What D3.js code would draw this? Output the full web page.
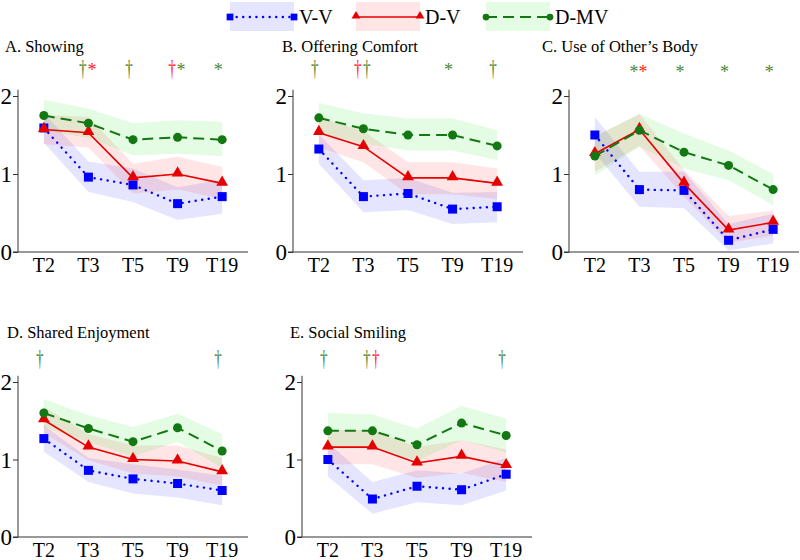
<!DOCTYPE html>
<html>
<head>
<meta charset="utf-8">
<script src="https://cdn.jsdelivr.net/npm/d3@7"></script>
<style>
  body { margin: 0; background: #fff; }
</style>
</head>
<body>
<div id="chart"></div>
<script>
const times = ['T2', 'T3', 'T5', 'T9', 'T19'];
const groups = ['V-V', 'D-V', 'D-MV'];
const titles = ['A. Showing', 'B. Offering Comfort', 'C. Use of Other\u2019s Body', 'D. Shared Enjoyment', 'E. Social Smiling'];
const yTicks = [0, 1, 2];

// means, rows = V-V, D-V, D-MV
const showingMean = [[1.59, 0.96, 0.86, 0.62, 0.71], [1.57, 1.53, 0.95, 1.0, 0.88], [1.75, 1.65, 1.44, 1.47, 1.44]];
const showingLow  = [[1.40, 0.77, 0.64, 0.41, 0.49], [1.38, 1.34, 0.75, 0.80, 0.68], [1.56, 1.46, 1.24, 1.26, 1.23]];
const showingHigh = [[1.78, 1.16, 1.07, 0.83, 0.93], [1.76, 1.73, 1.13, 1.22, 1.09], [1.95, 1.84, 1.65, 1.69, 1.67]];

const comfortMean = [[1.32, 0.71, 0.75, 0.55, 0.58], [1.53, 1.35, 0.95, 0.95, 0.88], [1.72, 1.58, 1.50, 1.50, 1.36]];
const comfortLow  = [[1.13, 0.51, 0.54, 0.36, 0.38], [1.34, 1.15, 0.74, 0.74, 0.68], [1.53, 1.39, 1.30, 1.30, 1.18]];
const comfortHigh = [[1.51, 0.92, 0.95, 0.76, 0.77], [1.72, 1.55, 1.15, 1.15, 1.07], [1.91, 1.78, 1.71, 1.71, 1.56]];

const bodyMean = [[1.50, 0.80, 0.79, 0.15, 0.29], [1.26, 1.57, 0.88, 0.28, 0.38], [1.23, 1.56, 1.28, 1.11, 0.80]];
const bodyLow  = [[1.27, 0.58, 0.56, 0.02, 0.11], [1.03, 1.36, 0.71, 0.12, 0.21], [0.98, 1.35, 1.07, 0.92, 0.60]];
const bodyHigh = [[1.73, 1.03, 1.03, 0.36, 0.49], [1.48, 1.77, 1.05, 0.46, 0.53], [1.48, 1.77, 1.52, 1.30, 1.00]];

const enjoyMean = [[1.27, 0.86, 0.75, 0.69, 0.60], [1.51, 1.16, 1.00, 0.98, 0.84], [1.60, 1.40, 1.23, 1.41, 1.11]];
const enjoyLow  = [[1.10, 0.71, 0.56, 0.51, 0.41], [1.34, 0.99, 0.82, 0.78, 0.66], [1.42, 1.23, 1.04, 1.23, 0.89]];
const enjoyHigh = [[1.44, 1.02, 0.94, 0.87, 0.79], [1.68, 1.33, 1.18, 1.18, 1.02], [1.78, 1.57, 1.42, 1.59, 1.33]];

const smileMean = [[1.00, 0.49, 0.655, 0.61, 0.81], [1.16, 1.16, 0.955, 1.04, 0.92], [1.37, 1.37, 1.19, 1.47, 1.31]];
const smileLow  = [[0.78, 0.30, 0.45, 0.41, 0.60], [0.94, 0.94, 0.76, 0.83, 0.71], [1.14, 1.15, 0.98, 1.25, 1.09]];
const smileHigh = [[1.22, 0.71, 0.86, 0.82, 1.02], [1.38, 1.38, 1.16, 1.25, 1.13], [1.60, 1.58, 1.40, 1.69, 1.53]];

// significance marks: [time, group, symbol]
const sigShowing = [['T3', 'D-MV', '†'], ['T3', 'D-V', '*'], ['T5', 'D-MV', '†'], ['T9', 'D-V', '†'], ['T9', 'D-MV', '*'], ['T19', 'D-MV', '*']];
const sigComfort = [['T2', 'D-MV', '†'], ['T3', 'D-V', '†'], ['T3', 'D-MV', '†'], ['T9', 'D-MV', '*'], ['T19', 'D-MV', '†']];
const sigBody = [['T3', 'D-MV', '*'], ['T3', 'D-V', '*'], ['T5', 'D-MV', '*'], ['T9', 'D-MV', '*'], ['T19', 'D-MV', '*']];
const sigEnjoy = [['T2', 'D-MV', '†'], ['T19', 'D-MV', '†']];
const sigSmile = [['T2', 'D-MV', '†'], ['T3', 'D-MV', '†'], ['T3', 'D-V', '†'], ['T19', 'D-MV', '†']];

const lineColor = { 'V-V': '#0000ff', 'D-V': '#e60000', 'D-MV': '#137813' };
const bandColor = { 'V-V': 'rgba(40,40,255,0.12)', 'D-V': 'rgba(255,40,40,0.12)', 'D-MV': 'rgba(40,230,40,0.13)' };
const sigColor = { 'V-V': '#0000ff', 'D-V': '#ff1a1a', 'D-MV': '#4a8534' };
const dashes = { 'V-V': '0.1,6.5', 'D-V': null, 'D-MV': '11,6' };
const FONT = 'Liberation Serif';

const width = 800, height = 560;
const svg = d3.select('#chart').append('svg').attr('width', width).attr('height', height);

function addText(sel, x, y, size, str) {
  return sel.append('text').attr('x', x).attr('y', y)
    .attr('font-size', size).attr('font-family', FONT).style('font-family', FONT)
    .text(str);
}

function drawMarker(sel, g, x, y, k) {
  if (g === 'V-V') {
    sel.append('rect').attr('x', x - 4.5 * k).attr('y', y - 4.5 * k).attr('width', 9 * k).attr('height', 9 * k).attr('fill', lineColor[g]);
  } else if (g === 'D-V') {
    sel.append('path').attr('d', d3.symbol(d3.symbolTriangle, 60 * k * k)()).attr('transform', 'translate(' + x + ',' + (y - 1) + ')').attr('fill', lineColor[g]);
  } else {
    sel.append('circle').attr('cx', x).attr('cy', y).attr('r', 4.5 * k).attr('fill', lineColor[g]);
  }
}

function styleLine(sel, g) {
  return sel.attr('stroke', lineColor[g])
    .attr('stroke-width', g === 'D-V' ? 1.6 : (g === 'V-V' ? 2.4 : 2))
    .attr('stroke-dasharray', dashes[g])
    .attr('stroke-linecap', g === 'V-V' ? 'round' : 'butt');
}

// legend
const legendX = [230, 356, 486];
groups.forEach((g, i) => {
  const lg = svg.append('g').attr('transform', 'translate(' + legendX[i] + ',2)');
  lg.append('rect').attr('width', 64).attr('height', 29).attr('fill', bandColor[g]);
  styleLine(lg.append('line').attr('x1', 0).attr('x2', 64).attr('y1', 15).attr('y2', 15), g);
  [0, 64].forEach(x => drawMarker(lg, g, x, 15, 0.75));
  addText(lg, 69, 22, 20, g);
});

const panels = [
  { mean: showingMean, low: showingLow, high: showingHigh, sig: sigShowing, left: 18, top: 96, bottom: 252, tx: 5, ty: 52, my: 76 },
  { mean: comfortMean, low: comfortLow, high: comfortHigh, sig: sigComfort, left: 293, top: 96, bottom: 252, tx: 282, ty: 52, my: 76 },
  { mean: bodyMean, low: bodyLow, high: bodyHigh, sig: sigBody, left: 569, top: 96, bottom: 252, tx: 542, ty: 52, my: 78 },
  { mean: enjoyMean, low: enjoyLow, high: enjoyHigh, sig: sigEnjoy, left: 18, top: 382, bottom: 537, tx: 7, ty: 338, my: 366 },
  { mean: smileMean, low: smileLow, high: smileHigh, sig: sigSmile, left: 302, top: 382, bottom: 537, tx: 290, ty: 338, my: 366 }
];

panels.forEach((p, pi) => {
  const x = d3.scalePoint().domain(times).range([p.left, p.left + 230]).padding(0.58);
  const y = d3.scaleLinear().domain([0, 2]).range([p.bottom, p.top]);

  addText(svg, p.tx, p.ty, 16.5, titles[pi]);

  // bands
  groups.forEach((g, gi) => {
    const area = d3.area().x((d, i) => x(times[i])).y0((d, i) => y(p.low[gi][i])).y1((d, i) => y(p.high[gi][i]));
    svg.append('path').datum(times).attr('d', area).attr('fill', bandColor[g]);
  });

  // axes (lines from d3 axes, labels as own text)
  svg.append('g').attr('transform', 'translate(' + p.left + ',0)')
    .call(d3.axisLeft(y).tickValues(yTicks).tickSize(5).tickFormat(''))
    .call(a => a.select('.domain').attr('d', 'M-5,' + y(0) + 'H0V' + y(2.08)))
    .call(a => a.selectAll('line,.domain').attr('stroke', '#333'));
  yTicks.forEach(v => addText(svg, p.left - 6, y(v) + 8, 23, v).attr('text-anchor', 'end'));

  svg.append('g').attr('transform', 'translate(0,' + p.bottom + ')')
    .call(d3.axisBottom(x).tickSize(0).tickFormat(''))
    .call(a => a.select('.domain').attr('d', 'M' + p.left + ',0H' + (p.left + 230)).attr('stroke', '#333'));
  times.forEach(t => addText(svg, x(t), p.bottom + 19.5, 20, t).attr('text-anchor', 'middle'));

  // lines and markers
  groups.forEach((g, gi) => {
    const line = d3.line().x((d, i) => x(times[i])).y(d => y(d));
    styleLine(svg.append('path').datum(p.mean[gi]).attr('d', line).attr('fill', 'none'), g);
    p.mean[gi].forEach((v, i) => drawMarker(svg, g, x(times[i]), y(v), 1));
  });

  // significance marks
  const byTime = d3.group(p.sig, d => d[0]);
  byTime.forEach((marks, t) => {
    marks.forEach((m, k) => {
      const off = marks.length === 1 ? -4 : (k === 0 ? -5.5 : 3.5);
      const cx = x(t) + off;
      if (m[2] === '†') {
        addText(svg, cx, p.my, 19, m[2]).attr('text-anchor', 'middle').attr('fill', sigColor[m[1]])
          .attr('transform', 'translate(' + cx + ',' + p.my + ') scale(0.8,1.2) translate(' + (-cx) + ',' + (-p.my) + ')');
      } else {
        addText(svg, cx, p.my, 18, m[2]).attr('text-anchor', 'middle').attr('fill', sigColor[m[1]]);
      }
    });
  });
});
</script>
</body>
</html>
